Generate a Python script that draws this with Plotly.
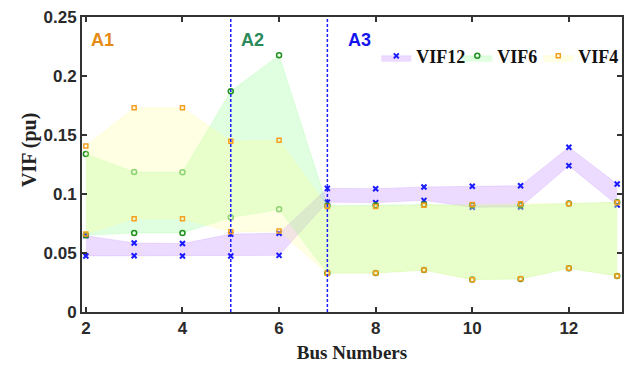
import plotly.graph_objects as go

bus = [2, 3, 4, 5, 6, 7, 8, 9, 10, 11, 12, 13]

vif12_low = [0.0475, 0.0477, 0.0475, 0.0475, 0.048, 0.093, 0.0927, 0.0946, 0.0887, 0.089, 0.124, 0.0907]
vif12_high = [0.0647, 0.0585, 0.058, 0.066, 0.0667, 0.1048, 0.1045, 0.106, 0.1065, 0.107, 0.1396, 0.1085]

vif6_low = [0.065, 0.067, 0.067, 0.080, 0.087, 0.033, 0.033, 0.0355, 0.0275, 0.028, 0.037, 0.0305]
vif6_high = [0.134, 0.1186, 0.1184, 0.187, 0.2175, 0.090, 0.0905, 0.091, 0.0905, 0.0905, 0.092, 0.093]

vif4_low = [0.066, 0.079, 0.079, 0.068, 0.0686, 0.0328, 0.033, 0.0356, 0.0274, 0.0282, 0.037, 0.0305]
vif4_high = [0.1407, 0.173, 0.173, 0.1446, 0.1455, 0.0895, 0.0895, 0.0904, 0.0912, 0.0918, 0.0918, 0.0927]

DG, LG = "#1f8f1f", "#66c266"
g_low_cols = [DG, DG, DG, LG, LG, DG, DG, DG, DG, DG, DG, DG]
g_high_cols = [DG, LG, LG, DG, DG, DG, DG, DG, DG, DG, DG, DG]

regions = ["A1", "A2", "A3"]
region_x = [2.35, 5.44, 7.67]
region_col = ["#e58a14", "#2a8a5a", "#1414f0"]
dividers = [5, 7]

fig = go.Figure()

def band(low, high, name, fillcol, edgecol, msym, mcol_low, mcol_high, msize, mlw):
    fig.add_trace(go.Scatter(x=bus, y=low, mode="lines+markers",
                             line=dict(width=0.6, color=edgecol),
                             marker=dict(symbol=msym, size=msize, color=mcol_low,
                                         line=dict(width=mlw, color=mcol_low)),
                             showlegend=False, hoverinfo="skip"))
    fig.add_trace(go.Scatter(x=bus, y=high, mode="lines+markers", fill="tonexty", fillcolor=fillcol,
                             line=dict(width=0.6, color=edgecol), name=name,
                             marker=dict(symbol=msym, size=msize, color=mcol_high,
                                         line=dict(width=mlw, color=mcol_high))))

band(vif12_low, vif12_high, "VIF12", "rgba(180,110,255,0.25)", "rgba(180,110,255,0.3)",
     "x-thin-open", "#1a1aff", "#1a1aff", 5, 2)
band(vif6_low, vif6_high, "VIF6", "rgba(100,255,100,0.2)", "rgba(100,255,100,0.25)",
     "circle-open", g_low_cols, g_high_cols, 5, 1.5)
band(vif4_low, vif4_high, "VIF4", "rgba(255,255,150,0.27)", "rgba(255,240,130,0.3)",
     "square-open", "#f5a020", "#f5a020", 4, 1.5)

for d in dividers:
    fig.add_shape(type="line", x0=d, x1=d, y0=0, y1=1, yref="paper", xref="x",
                  line=dict(color="#1a1aff", width=1.5, dash="3px,2px"))

for t, xx, c in zip(regions, region_x, region_col):
    fig.add_annotation(x=xx, y=0.2305, text="<b>%s</b>" % t, showarrow=False,
                       font=dict(family="Liberation Sans", size=18, color=c))

# y-axis title as rotated text (slightly above centre, as in the reference)
fig.add_annotation(xref="paper", yref="paper", x=-0.096, y=0.55, textangle=-90,
                   text="<b>VIF (pu)</b>", showarrow=False, xanchor="center", yanchor="middle",
                   font=dict(family="Liberation Serif", size=20, color="#222222"))

axis_common = dict(showline=True, linecolor="#333333", linewidth=2, mirror="ticks",
                   ticks="inside", ticklen=5, tickwidth=2, tickcolor="#333333",
                   showgrid=False, zeroline=False,
                   tickfont=dict(family="Liberation Sans", size=17, color="#2a2a2a"))

fig.update_layout(
    width=626, height=365,
    margin=dict(l=82, r=4, t=17, b=53, autoexpand=False),
    plot_bgcolor="white", paper_bgcolor="white",
    xaxis=dict(range=[1.92, 13.1], tickvals=[2, 4, 6, 8, 10, 12],
               ticktext=["<b>2</b>", "<b>4</b>", "<b>6</b>", "<b>8</b>", "<b>10</b>", "<b>12</b>"],
               title=dict(text="<b>Bus Numbers</b>", standoff=8,
                          font=dict(family="Liberation Serif", size=19, color="#222222")),
               **axis_common),
    yaxis=dict(range=[0, 0.25], tickvals=[0, 0.05, 0.1, 0.15, 0.2, 0.25],
               ticktext=["<b>0</b>", "<b>0.05</b>", "<b>0.1</b>", "<b>0.15</b>", "<b>0.2</b>", "<b>0.25</b>"],
               **axis_common),
    legend=dict(orientation="h", x=0.545, y=0.93, xanchor="left", yanchor="top",
                traceorder="normal", bgcolor="rgba(0,0,0,0)", itemwidth=30,
                entrywidth=36, entrywidthmode="pixels",
                font=dict(family="Liberation Serif", size=18, color="#111111", weight="bold")),
)

fig.write_html("out.html")
